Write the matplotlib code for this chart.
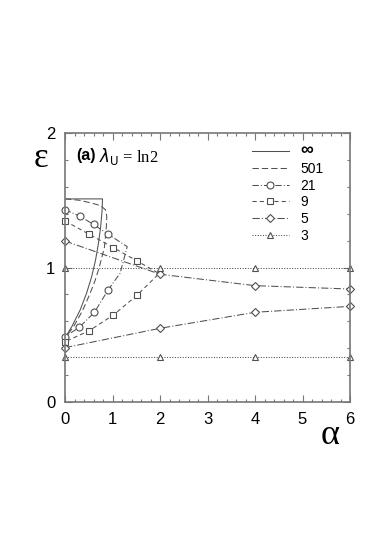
import matplotlib
matplotlib.use("Agg")
import matplotlib.pyplot as plt
from matplotlib.ticker import MultipleLocator

# ---- data ----
# N = infinity
a_inf = [0, 0.79, 0.78, 0.75, 0.70, 0.64, 0.56, 0.455, 0.32, 0.15, 0]
e_inf = [1.51, 1.51, 1.42, 1.30, 1.17, 1.05, 0.93, 0.81, 0.685, 0.565, 0.476]
# N = 501
a_501 = [0, 0.30, 0.55, 0.75, 0.85, 0.88, 0.87, 0.83, 0.72, 0.63, 0.52, 0.37, 0.18, 0]
e_501 = [1.51, 1.50, 1.48, 1.46, 1.43, 1.38, 1.30, 1.15, 1.00, 0.90, 0.80, 0.68, 0.56, 0.476]
# N = 21
a_21 = [0, 0.32, 0.60, 0.91, 1.31, 1.16, 0.91, 0.62, 0.30, 0]
e_21 = [1.43, 1.38, 1.32, 1.247, 1.155, 0.957, 0.835, 0.667, 0.555, 0.486]
m_21 = [0, 1, 2, 3, 6, 7, 8, 9]
# N = 9
a_9 = [0, 0.51, 1.02, 1.52, 1.98, 1.52, 1.02, 0.51, 0]
e_9 = [1.346, 1.247, 1.147, 1.048, 0.955, 0.795, 0.647, 0.53, 0.448]
m_9 = [0, 1, 2, 3, 5, 6, 7, 8]
# N = 5 (two branches)
a_5 = [0, 2, 4, 6]
e_5_up = [1.197, 0.95, 0.865, 0.84]
e_5_lo = [0.404, 0.548, 0.667, 0.711]
# N = 3
a_3 = [0, 2, 4, 6]
e_3_up = [1.0, 1.0, 1.0, 1.0]
e_3_lo = [0.333, 0.333, 0.333, 0.333]

labels = ["\u221e", "501", "21", "9", "5", "3"]

# ---- styling ----
plt.rcParams['font.family'] = ['Liberation Sans', 'DejaVu Sans']
col = '#505050'
lw = 0.75
ms = 5
mk = dict(markerfacecolor='white', markeredgecolor=col, markeredgewidth=0.8, markersize=ms)

fig = plt.figure(figsize=(3.91, 5.59), dpi=100)
ax = fig.add_axes([65/391, 1-402/559, 285/391, 269/559])

ls_501 = (0, (6, 3))
ls_21 = (0, (6, 2, 1, 2))
ls_9 = (0, (4, 3))
ls_5 = (0, (7, 2, 1, 2))
ls_3 = (0, (1, 1.5))

h_inf, = ax.plot(a_inf, e_inf, color=col, lw=lw, ls='-')
h_501, = ax.plot(a_501, e_501, color=col, lw=lw, ls=ls_501)
h_21, = ax.plot(a_21, e_21, color=col, lw=lw, ls=ls_21, marker='o', markevery=m_21, **mk)
h_9, = ax.plot(a_9, e_9, color=col, lw=lw, ls=ls_9, marker='s', markevery=m_9, **mk)
h_5, = ax.plot(a_5, e_5_up, color=col, lw=lw, ls=ls_5, marker='D', **dict(mk, markersize=4.5))
h_5b, = ax.plot(a_5, e_5_lo, color=col, lw=lw, ls=ls_5, marker='D', **dict(mk, markersize=4.5))
h_3, = ax.plot(a_3, e_3_up, color=col, lw=lw, ls=ls_3, marker='^', **mk)
h_3b, = ax.plot(a_3, e_3_lo, color=col, lw=lw, ls=ls_3, marker='^', **mk)
for h in (h_21, h_9, h_5, h_5b, h_3, h_3b):
    h.set_clip_on(False)

ax.set_xlim(0, 6)
ax.set_ylim(0, 2)
ax.xaxis.set_major_locator(MultipleLocator(1))
ax.xaxis.set_minor_locator(MultipleLocator(0.2))
ax.yaxis.set_major_locator(MultipleLocator(1))
ax.yaxis.set_minor_locator(MultipleLocator(0.2))
ax.tick_params(which='both', direction='in', top=True, right=True, color='#777777', width=0.8)
ax.tick_params(which='major', length=5, labelsize=12, pad=7)
ax.tick_params(which='minor', length=2.5)
for s in ax.spines.values():
    s.set_color('#777777')
    s.set_linewidth(1.2)

ax.set_ylabel('\u03b5', fontsize=25, family=['Liberation Serif', 'DejaVu Serif'], rotation=0,
              va='center', ha='center')
ax.yaxis.set_label_coords(-0.084, 0.905)
ax.set_xlabel('\u03b1', fontsize=26, family=['Liberation Serif', 'DejaVu Serif'])
ax.xaxis.set_label_coords(0.93, -0.065)

ax.text(0.04, 0.918, '(a)', transform=ax.transAxes, fontsize=11.5, fontweight='bold', va='center')
ax.text(0.118, 0.913, r'$\lambda_{\rm U}$ = ln2', transform=ax.transAxes, fontsize=12,
        va='center', family=['Liberation Serif', 'DejaVu Serif'])

leg = ax.legend([h_inf, h_501, h_21, h_9, h_5, h_3], labels, loc='upper left',
                bbox_to_anchor=(0.655, 0.965), frameon=False, fontsize=10,
                handlelength=2.7, handletextpad=0.8, labelspacing=0.19,
                numpoints=1, borderpad=0, borderaxespad=0)
leg.get_texts()[0].set_fontsize(13)
leg.get_texts()[0].set_fontweight('bold')

fig.savefig('out.png', dpi=100)
